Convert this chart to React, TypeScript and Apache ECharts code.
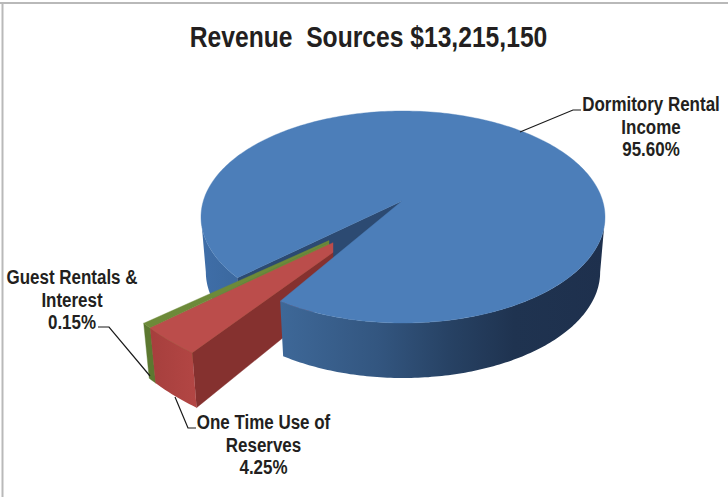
import React, { useEffect, useRef } from "react";
import * as echarts from "echarts";

const titleText = "Revenue  Sources $13,215,150";
const categories = ["Dormitory Rental\nIncome", "One Time Use of\nReserves", "Guest Rentals &\nInterest"];
const shares = [95.6, 4.25, 0.15];

const FONT = '"Liberation Sans", Arial, sans-serif';
const INK = "#231f20";

// Drawing layout per slice (projection of the tilted pie onto the page).
const layouts = [
  { apex: [402, 201], centre: [403, 217], rx: 202, ry: 106, start: 145, sweepScale: 0.995, clipX: null, z: 30 },
  { apex: [373, 224], centre: [373, 224], rx: 286, ry: 166, start: 129.2, sweepScale: 0.784, clipX: 333, z: 20 },
  { apex: [373, 221], centre: [373, 221], rx: 289, ry: 168, start: 140.4, sweepScale: 3.9, clipX: 329, z: 10 },
];
const DEPTH = 55;
const SIDE_DEPTH = 41;
const BOTTOM_SCALE = 0.976;

const labelLayouts = [
  { at: [651, 127], line: [[520, 132], [573, 110], [581, 110]] },
  { at: [263.5, 445], line: [[175, 397], [188, 428], [196, 428]] },
  { at: [72, 300], line: [[150, 376], [109, 327], [98, 327]] },
];

const rad = (d: number) => (d * Math.PI) / 180;

function renderSlice(params: any, api: any) {
  const i = params.dataIndex;
  const value = api.value(0);
  const total = shares.reduce((a, b) => a + b, 0);
  const L = layouts[i];
  const t0 = L.start;
  const t1 = t0 + (value / total) * 360 * L.sweepScale;
  const top = (t: number) => [L.centre[0] + L.rx * Math.cos(rad(t)), L.centre[1] + L.ry * Math.sin(rad(t))];
  const bottom = (t: number) => [
    L.centre[0] + L.rx * BOTTOM_SCALE * Math.cos(rad(t)),
    L.centre[1] + DEPTH + L.ry * Math.sin(rad(t)),
  ];
  const arc = (f: (t: number) => number[], a: number, b: number) => {
    const n = Math.max(2, Math.ceil(Math.abs(b - a)));
    const out: number[][] = [];
    for (let k = 0; k <= n; k++) out.push(f(a + ((b - a) * k) / n));
    return out;
  };
  const poly = (points: number[][], fill: any, z2: number) => ({
    type: "polygon",
    z2,
    shape: { points },
    style: { fill, stroke: typeof fill === "string" ? fill : undefined, lineWidth: typeof fill === "string" ? 0.4 : 0 },
  });
  const hGrad = (stops: [number, string][]) => ({
    type: "linear", x: 0, y: 0, x2: 1, y2: 0,
    colorStops: stops.map(([offset, color]) => ({ offset, color })),
  });
  const children: any[] = [];
  if (i === 0) {
    const apexLow = [L.apex[0], L.apex[1] + DEPTH];
    // far wall left of the gap, inner cut wall, near wall, top face
    children.push(poly([...arc(top, 180, t0), ...arc(bottom, t0, 180)], hGrad([[0, "#3f6ea8"], [1, "#3b689e"]]), 1));
    children.push(poly([L.apex, top(t0), bottom(t0), apexLow], "#2c4a72", 2));
    children.push(poly([...arc(top, 360, t1), ...arc(bottom, t1, 360)],
      hGrad([[0, "#3e6898"], [0.3, "#335680"], [0.52, "#274264"], [0.72, "#1f3350"], [1, "#1e304d"]]), 40));
    children.push(poly([L.apex, ...arc(top, t0, t1)], "#4c7eb9", 41));
  } else {
    const red = i === 1;
    const cut = (p: number[], apex: number[]) => {
      const u = (L.clipX! - p[0]) / (apex[0] - p[0]);
      return [L.clipX!, p[1] + (apex[1] - p[1]) * u];
    };
    const apexLow = [L.apex[0], L.apex[1] + SIDE_DEPTH];
    const topAt0 = cut(top(t0), L.apex);
    const topAt1 = cut(top(t1), L.apex);
    const lowAt0 = cut(bottom(t0), apexLow);
    const sideFill = red ? "#85312f" : "#6d8a39";
    const topFill = red ? "#bb4d4b" : "#6d8a39";
    const frontFill = red ? hGrad([[0, "#a63f3d"], [1, "#b34644"]]) : "#5c7830";
    const base = L.z;
    children.push(poly([topAt0, top(t0), bottom(t0), lowAt0], sideFill, base));
    children.push(poly([...arc(top, t0, t1), ...arc(bottom, t1, t0)], frontFill, base + 1));
    children.push(poly([topAt0, ...arc(top, t0, t1), topAt1], topFill, base + 2));
  }
  const A = labelLayouts[i];
  children.push({
    type: "polyline", z2: 60,
    shape: { points: A.line },
    style: { fill: "none", stroke: "#1a1a1a", lineWidth: 1.2 },
  });
  children.push({
    type: "text", z2: 61, x: A.at[0], y: A.at[1], scaleX: 0.87,
    style: {
      text: `${categories[i]}\n${value.toFixed(2)}%`,
      font: `bold 19.5px ${FONT}`,
      fill: INK,
      align: "center",
      verticalAlign: "middle",
      lineHeight: 22.5,
    },
  });
  return { type: "group", children };
}

export default function App() {
  const ref = useRef<HTMLDivElement>(null);
  useEffect(() => {
    const chart = echarts.init(ref.current!, undefined, { renderer: "svg" });
    chart.setOption({
      animation: false,
      backgroundColor: "#ffffff",
      graphic: [
        { type: "line", silent: true, shape: { x1: 0, y1: 3, x2: 728, y2: 3 }, style: { stroke: "#b9b9b9", lineWidth: 2 } },
        { type: "line", silent: true, shape: { x1: 2.5, y1: 3, x2: 2.5, y2: 497 }, style: { stroke: "#b9b9b9", lineWidth: 2 } },
        {
          type: "text", silent: true, x: 368.5, y: 37, scaleX: 0.85,
          style: {
            text: titleText,
            font: `bold 29px ${FONT}`,
            fill: INK,
            align: "center",
            verticalAlign: "middle",
          },
        },
      ],
      series: [
        {
          type: "custom",
          coordinateSystem: "none",
          silent: true,
          renderItem: renderSlice,
          data: shares.map((v) => [v]),
          encode: { value: 0 },
        },
      ],
    });
    return () => chart.dispose();
  }, []);
  return <div ref={ref} style={{ position: "fixed", left: 0, top: 0, width: 728, height: 497 }} />;
}
